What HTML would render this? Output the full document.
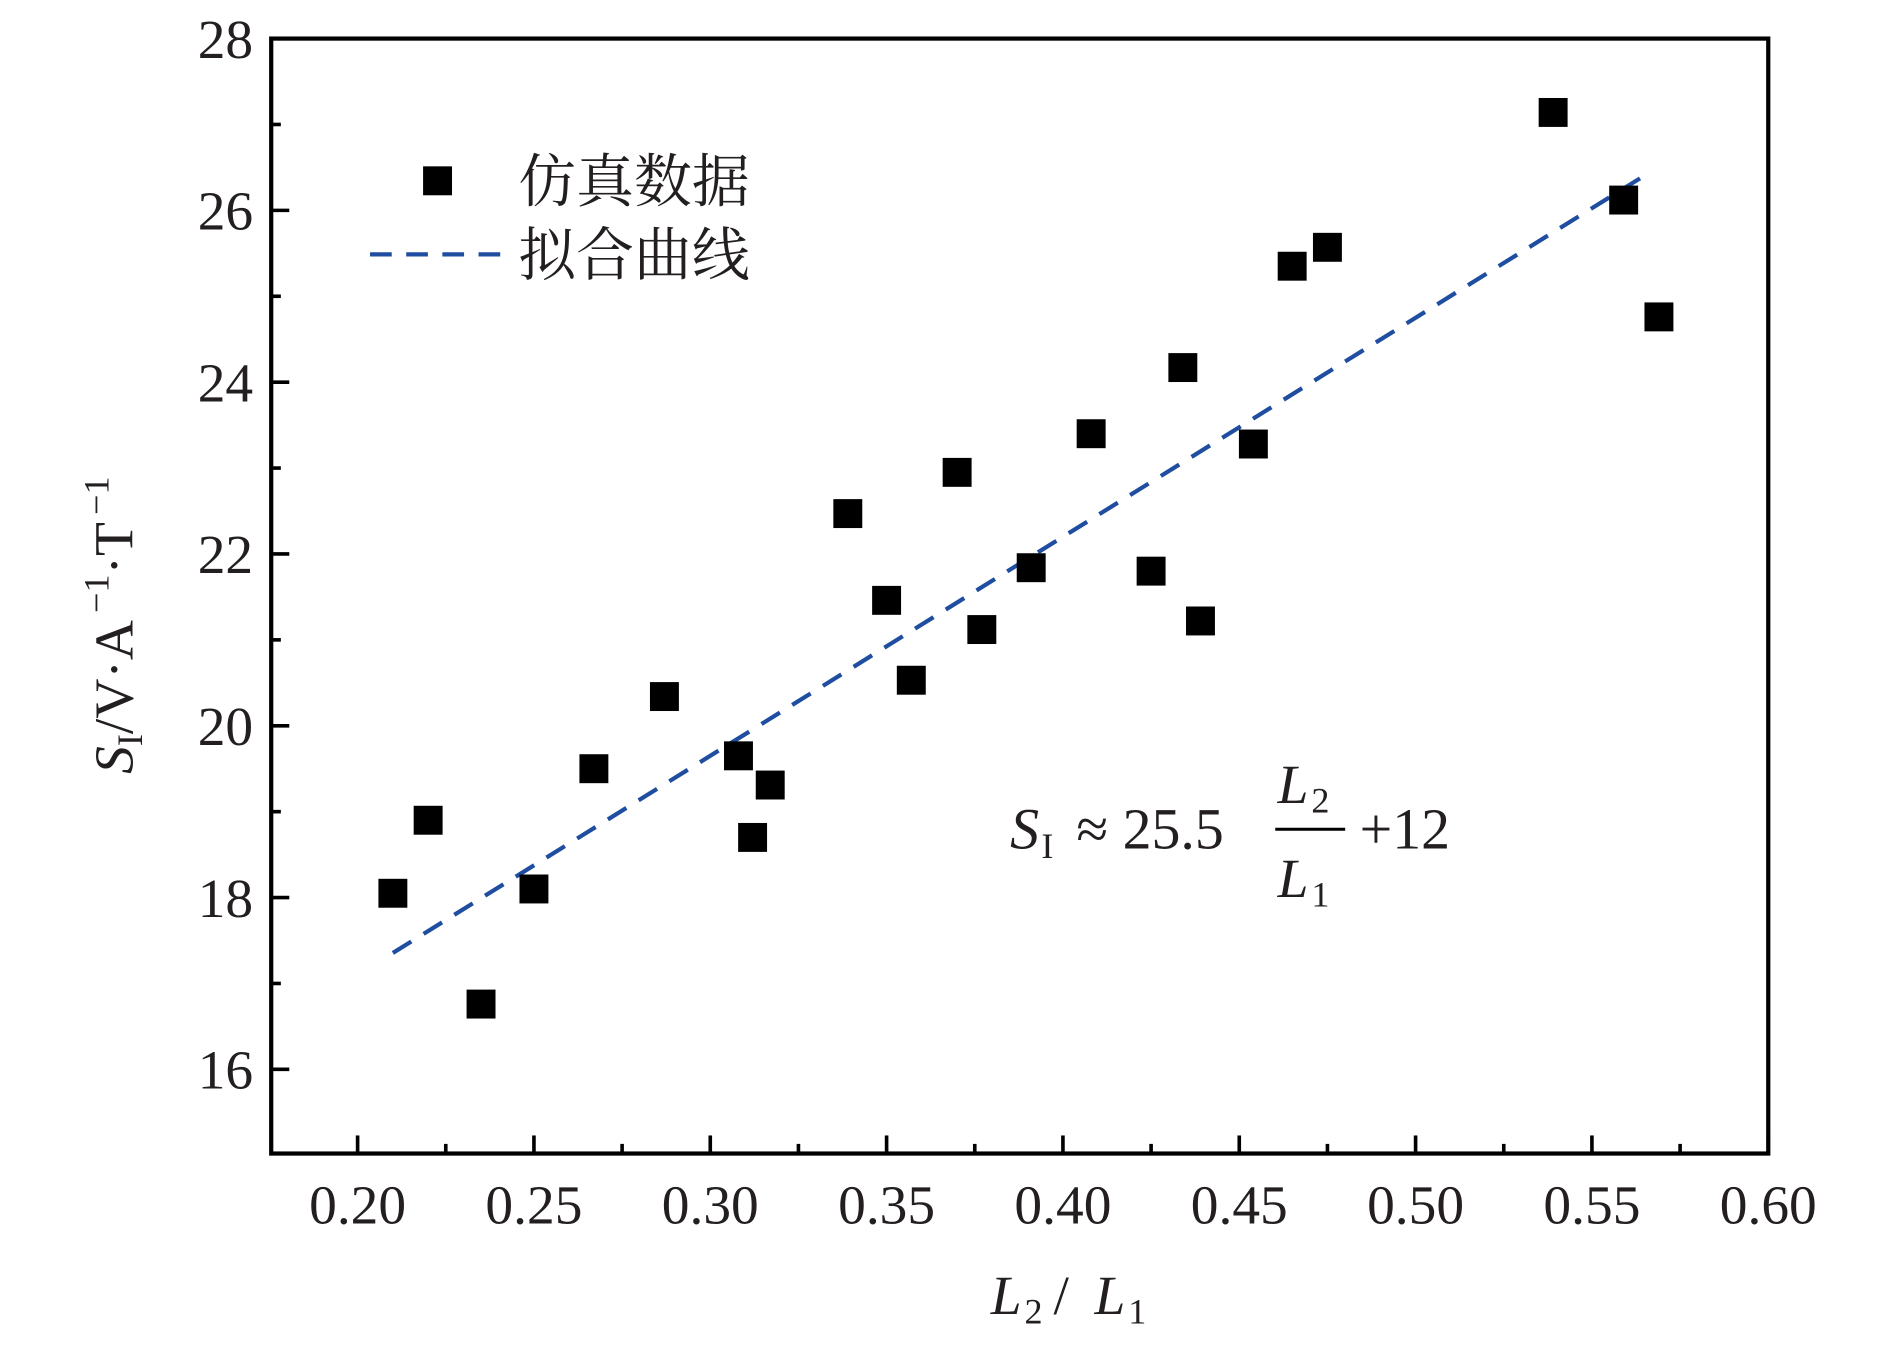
<!DOCTYPE html>
<html><head><meta charset="utf-8"><style>
html,body{margin:0;padding:0;background:#fff;}
svg{display:block;}
text{font-family:"Liberation Serif","Noto Serif CJK SC",serif;fill:#231f20;}
</style></head><body>
<svg id="chart" width="1890" height="1347" viewBox="0 0 1568 1117.5" xmlns="http://www.w3.org/2000/svg">
</svg>
<script>
const xVals = [0.210,0.220,0.235,0.250,0.267,0.287,0.308,0.312,0.317,0.339,0.350,0.357,0.370,0.377,0.391,0.408,0.425,0.434,0.439,0.454,0.465,0.475,0.539,0.559,0.569];
const yVals = [18.05,18.9,16.76,18.1,19.5,20.34,19.65,18.7,19.31,22.47,21.46,20.53,22.95,21.12,21.84,23.4,21.8,24.17,21.22,23.28,25.35,25.57,27.14,26.12,24.76];
const xTicks = [0.20,0.25,0.30,0.35,0.40,0.45,0.50,0.55,0.60];
const xTickLabels = ["0.20","0.25","0.30","0.35","0.40","0.45","0.50","0.55","0.60"];
const yTicks = [16,18,20,22,24,26,28];
const yTickLabels = ["16","18","20","22","24","26","28"];
const fitSlope = 25.5, fitIntercept = 12, fitRange = [0.21,0.565];

const L=225,R=1467,T=32,B=957;
const xMin=0.1755,xMax=0.6,yMin=15.02,yMax=28;
const sx=v=>L+(v-xMin)/(xMax-xMin)*(R-L);
const sy=v=>B-(v-yMin)/(yMax-yMin)*(B-T);
const svg=document.getElementById('chart');
const NS='http://www.w3.org/2000/svg';
function mk(tag,attrs,parent){const e=document.createElementNS(NS,tag);for(const k in attrs)e.setAttribute(k,attrs[k]);(parent||svg).appendChild(e);return e;}

const frame=mk('rect',{x:L,y:T,width:R-L,height:B-T,fill:'none',stroke:'#000','stroke-width':3.5});



xTicks.forEach((v,i)=>{
  const t=mk('line',{x1:sx(v),x2:sx(v),y1:B,y2:B-15,stroke:'#000','stroke-width':3});
  
  
  if(i<xTicks.length-1){
    const m=mk('line',{x1:sx(v+0.025),x2:sx(v+0.025),y1:B,y2:B-8,stroke:'#000','stroke-width':3});
    
    
  }
  const lb=mk('text',{x:sx(v),y:1015,'font-size':46,'text-anchor':'middle'});
  lb.textContent=xTickLabels[i];
  
  
});
yTicks.forEach((v,i)=>{
  const t=mk('line',{x1:L,x2:L+15,y1:sy(v),y2:sy(v),stroke:'#000','stroke-width':3});
  
  
  if(v<28){
    const m=mk('line',{x1:L,x2:L+8,y1:sy(v+1),y2:sy(v+1),stroke:'#000','stroke-width':3});
    
    
  }
  const lb=mk('text',{x:210,y:sy(v)+16,'font-size':46,'text-anchor':'end'});
  lb.textContent=yTickLabels[i];
  
  
});

const fit=mk('line',{x1:sx(fitRange[0]),y1:sy(fitSlope*fitRange[0]+fitIntercept),x2:sx(fitRange[1]),y2:sy(fitSlope*fitRange[1]+fitIntercept),stroke:'#1f4ea1','stroke-width':3.5,'stroke-dasharray':'18 12'});



xVals.forEach((x,i)=>{
  const p=mk('rect',{x:sx(x)-12,y:sy(yVals[i])-12,width:24,height:24,fill:'#000'});
  
  
});
</script>
<svg style="position:absolute;left:0;top:0" width="1890" height="1347" viewBox="0 0 1568 1117.5" xmlns="http://www.w3.org/2000/svg">
<rect x="351" y="138" width="24" height="24" fill="#000"/>
<text x="430" y="167" font-size="48" textLength="192">仿真数据</text>
<line x1="307" y1="211" x2="418" y2="211" stroke="#1f4ea1" stroke-width="3.5" stroke-dasharray="18 12"/>
<text x="430" y="228" font-size="48" textLength="192">拟合曲线</text>
<g>
<text x="838" y="704" font-size="48" font-style="italic">S</text>
<text x="864" y="712" font-size="30">I</text>
<text x="893" y="704" font-size="48">≈ 25.5</text>
<text x="1060" y="666" font-size="46" font-style="italic">L</text><text x="1088" y="674" font-size="30">2</text>
<line x1="1058" y1="688" x2="1116" y2="688" stroke="#000" stroke-width="2.5"/>
<text x="1060" y="744" font-size="46" font-style="italic">L</text><text x="1088" y="752" font-size="30">1</text>
<text x="1128" y="704" font-size="48">+12</text>
</g>
<g>
<text x="822" y="1090" font-size="46" font-style="italic">L</text><text x="850" y="1098" font-size="30">2</text>
<text x="874" y="1090" font-size="46">/</text>
<text x="908" y="1090" font-size="46" font-style="italic">L</text><text x="936" y="1098" font-size="30">1</text>
</g>
<g transform="translate(110,642) rotate(-90)">
<text x="0" y="0" font-size="46"><tspan font-style="italic">S</tspan><tspan font-size="30" dy="8">I</tspan><tspan dy="-8">/V·A</tspan><tspan font-size="30" dy="-20" dx="6">−1</tspan><tspan dy="20">·T</tspan><tspan font-size="30" dy="-20" dx="6">−1</tspan></text>
</g>
</svg>
</body></html>
